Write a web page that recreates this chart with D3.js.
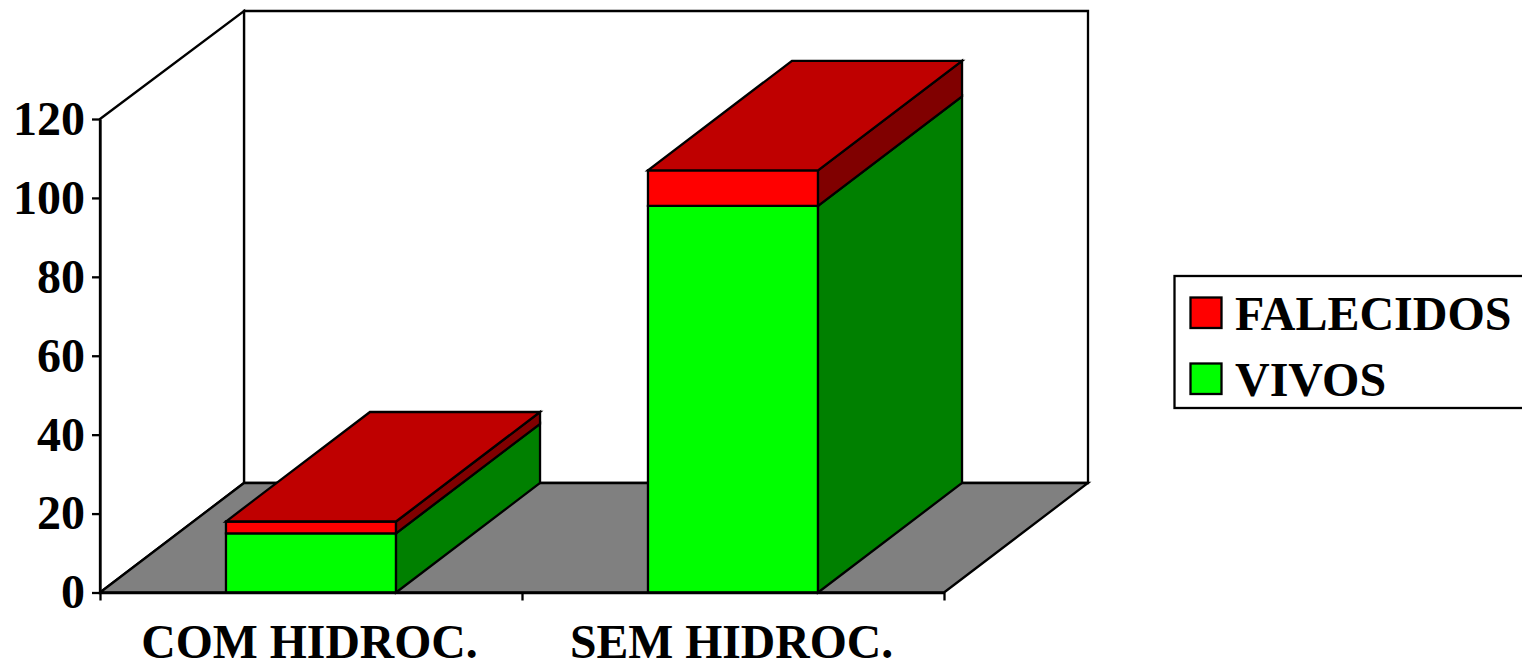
<!DOCTYPE html>
<html><head><meta charset="utf-8">
<script src="https://d3js.org/d3.v7.min.js"></script>
<style>
html,body{margin:0;padding:0;background:#fff;overflow:hidden}
svg{display:block}
text{font-family:"Liberation Serif",serif;font-weight:bold;fill:#000}
</style></head><body>
<svg id="c" width="1522" height="663"></svg>
<script>
const categories = ["COM HIDROC.", "SEM HIDROC."];
const vivos = [15, 98];
const falecidos = [3, 9];
const yTicks = [0, 20, 40, 60, 80, 100, 120];
const seriesNames = ["FALECIDOS", "VIVOS"];

const plot = {left: 100, right: 944, bottom: 592.5, top: 119};
const depth = {dx: 144, dy: -109.5};
const wallTop = 11;
const FS = 48, LFS = 47.7, SW = 2.3;
const colors = {
  VIVOS: {front: "#00ff00", side: "#008000", top: "#00bf00"},
  FALECIDOS: {front: "#ff0000", side: "#800000", top: "#bf0000"}
};
const svg = d3.select("#c");
const x = d3.scaleBand().domain(categories).range([plot.left, plot.right])
  .paddingInner(0.597).paddingOuter(0.2985);
const xEdge = d3.scaleLinear().domain([0, categories.length]).range([plot.left, plot.right]);
const y = d3.scaleLinear().domain([0, 120]).range([plot.bottom, plot.top]);
const line = d3.line();
const poly = (pts, fill, w) => svg.append("path").attr("d", line(pts) + "Z")
  .attr("fill", fill).attr("stroke", "#000").attr("stroke-width", w || SW).attr("stroke-linejoin", "miter");

// walls and floor
const x0 = plot.left, x1 = plot.right, y0 = y(0), yT = y(120), d = depth;
poly([[x0 + d.dx, wallTop], [x1 + d.dx, wallTop], [x1 + d.dx, y0 + d.dy], [x0 + d.dx, y0 + d.dy]], "#fff");
poly([[x0, yT], [x0 + d.dx, wallTop], [x0 + d.dx, y0 + d.dy], [x0, y0]], "#fff");
poly([[x0, y0], [x0 + d.dx, y0 + d.dy], [x1 + d.dx, y0 + d.dy], [x1, y0]], "#808080");

// bars
categories.forEach((c, i) => {
  const l = x(c), r = l + x.bandwidth();
  const stack = [
    {name: "VIVOS", a: 0, b: vivos[i]},
    {name: "FALECIDOS", a: vivos[i], b: vivos[i] + falecidos[i]}
  ];
  stack.forEach((s, k) => {
    const ya = y(s.a), yb = y(s.b), col = colors[s.name];
    poly([[l, ya], [r, ya], [r, yb], [l, yb]], col.front);
    poly([[r, ya], [r + d.dx, ya + d.dy], [r + d.dx, yb + d.dy], [r, yb]], col.side);
    if (k === stack.length - 1)
      poly([[l, yb], [r, yb], [r + d.dx, yb + d.dy], [l + d.dx, yb + d.dy]], col.top);
  });
});

// axes
const gy = svg.append("g").attr("transform", `translate(${plot.left},0)`)
  .call(d3.axisLeft(y).tickValues(yTicks).tickSize(8).tickPadding(7).tickSizeOuter(0));
gy.selectAll("text").attr("font-size", FS).attr("font-family", null).attr("dy", "0.32em");
gy.selectAll("line,path").attr("stroke", "#000").attr("stroke-width", SW);

const gx = svg.append("g").attr("transform", `translate(0,${plot.bottom})`)
  .call(d3.axisBottom(xEdge).tickValues(d3.range(categories.length + 1)).tickSize(8).tickFormat("").tickSizeOuter(0));
gx.selectAll("line,path").attr("stroke", "#000").attr("stroke-width", SW);

const gl = svg.append("g").attr("transform", `translate(-1.5,${plot.bottom})`)
  .call(d3.axisBottom(x).tickSize(0).tickPadding(31.5));
gl.select(".domain").remove();
gl.selectAll("text").attr("font-size", LFS).attr("font-family", null);

// legend
svg.append("rect").attr("x", 1174.5).attr("y", 276).attr("width", 360).attr("height", 132)
  .attr("fill", "#fff").attr("stroke", "#000").attr("stroke-width", SW);
const legendY = [297.5, 363.5];
seriesNames.forEach((n, i) => {
  svg.append("rect").attr("x", 1190.5).attr("y", legendY[i]).attr("width", 31).attr("height", 30.5)
    .attr("fill", colors[n].front).attr("stroke", "#000").attr("stroke-width", SW);
  svg.append("text").attr("x", 1235).attr("y", legendY[i] + 32.5).attr("font-size", FS).text(n);
});
</script>
</body></html>
